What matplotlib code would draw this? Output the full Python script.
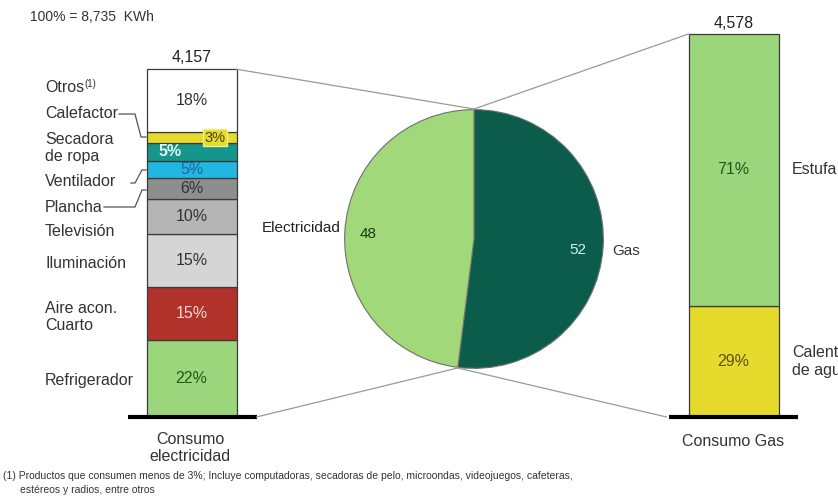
import numpy as np
import matplotlib.pyplot as plt

plt.rcParams['font.family'] = ['Liberation Sans', 'DejaVu Sans']

# consumo anual por hogar (KWh)
total_kwh = 8735
elec_total = 4157
gas_total = 4578

elec_items = ["Refrigerador", "Aire acon.\nCuarto", "Iluminación", "Televisión",
              "Plancha", "Ventilador", "Secadora\nde ropa", "Calefactor", "Otros"]
elec_shares = [22, 15, 15, 10, 6, 5, 5, 3, 18]

gas_items = ["Calentador\nde agua", "Estufa"]
gas_shares = [29, 71]

pie_labels = ["Gas", "Electricidad"]
pie_values = [52, 48]

elec_colors = ["#9cd67c", "#b0322b", "#d5d5d5", "#b5b5b5", "#8e8e8e",
               "#22b6e2", "#16958a", "#e6da2c", "#ffffff"]
elec_text = ["#1d5a1d", "#f6d6d0", "#333333", "#333333", "#333333",
             "#1c6a9c", "#e4f4f2", "#4a4400", "#333333"]
gas_colors = ["#e6da2c", "#9cd67c"]
gas_text = ["#5a5410", "#1d5a1d"]
pie_colors = ["#0b5c4a", "#a0d87a"]

W, H = 838, 500
base_px = 417
kwh_per_px = gas_total / 383.0
fs = 11.5

fig = plt.figure(figsize=(W / 100, H / 100), dpi=100)

# bars in KWh
ax = fig.add_axes([0, 0, 1, 1])
ax.set_xlim(0, W)
ax.set_ylim((base_px - H) * kwh_per_px, base_px * kwh_per_px)
ax.axis('off')

# overlay in pixel units for labels and connector lines
ov = fig.add_axes([0, 0, 1, 1], zorder=3)
ov.set_xlim(0, W)
ov.set_ylim(H, 0)
ov.axis('off')
ov.patch.set_alpha(0)


def to_px(kwh):
    return base_px - kwh / kwh_per_px


xl, xr, bw = 191.5, 733.5, 90

# electricity stack
elec_vals = np.array(elec_shares) / sum(elec_shares) * elec_total
bottom = 0
seg_mid = []
for v, c in zip(elec_vals, elec_colors):
    ax.bar(xl, v, bw, bottom=bottom, color=c, edgecolor="#3a3a3a", linewidth=0.9)
    seg_mid.append(bottom + v / 2)
    bottom += v

for i, (s, m) in enumerate(zip(elec_shares, seg_mid)):
    x = xl
    kw = dict(ha='center', va='center', fontsize=fs, color=elec_text[i])
    if elec_items[i] == "Calefactor":
        x = 215
        kw['fontsize'] = fs - 1
        kw['bbox'] = dict(boxstyle='square,pad=0.12', fc="#e6da2c", ec="#f2ec90", lw=1)
    if elec_items[i].startswith("Secadora"):
        x = 170
        kw['fontweight'] = 'bold'
    ax.text(x, m, f"{s}%", **kw)

# gas stack
gas_vals = np.array(gas_shares) / sum(gas_shares) * gas_total
bottom = 0
for v, c, s, tc in zip(gas_vals, gas_colors, gas_shares, gas_text):
    ax.bar(xr, v, bw, bottom=bottom, color=c, edgecolor="#3a3a3a", linewidth=0.9)
    ax.text(xr, bottom + v / 2, f"{s}%", ha='center', va='center',
            fontsize=fs, color=tc)
    bottom += v

# totals on top of bars
ax.text(xl, elec_total + 12 * kwh_per_px, f"{elec_total:,}", ha='center', va='center',
        fontsize=fs, color="#222222")
ax.text(xr, gas_total + 11 * kwh_per_px, f"{gas_total:,}", ha='center', va='center',
        fontsize=fs, color="#222222")

# base lines
ax.plot([xl - 64, xl + 65], [0, 0], color='black', lw=3, solid_capstyle='butt')
ax.plot([xr - 65, xr + 64], [0, 0], color='black', lw=3, solid_capstyle='butt')

# pie
cx, cy, r = 474, 239, 130
pax = fig.add_axes([(cx - r) / W, (H - cy - r) / H, 2 * r / W, 2 * r / H], zorder=1)
pax.pie(pie_values, colors=pie_colors, startangle=90, counterclock=False, radius=1,
        wedgeprops=dict(edgecolor="#707070", linewidth=0.8))
pax.set_xlim(-1.005, 1.005)
pax.set_ylim(-1.005, 1.005)
pax.set_aspect('equal')

# points where the two slices meet
ang = np.deg2rad(90 - 360 * pie_values[0] / sum(pie_values))
top_pt = (cx, cy - r)
bot_pt = (cx + r * np.cos(ang), cy - r * np.sin(ang))

lc = "#9a9a9a"
el_top = to_px(elec_total)
gs_top = to_px(gas_total)
ov.plot([xl + bw / 2, top_pt[0]], [el_top, top_pt[1]], color=lc, lw=0.9)
ov.plot([xl + 65, bot_pt[0]], [base_px, bot_pt[1]], color=lc, lw=0.9)
ov.plot([top_pt[0], xr - bw / 2], [top_pt[1], gs_top], color=lc, lw=0.9)
ov.plot([bot_pt[0], xr - 67], [bot_pt[1], base_px], color=lc, lw=0.9)

ov.text(341, 228, pie_labels[1], ha='right', va='center', fontsize=fs - 0.5, color="#222222")
ov.text(368, 234, str(pie_values[1]), ha='center', va='center', fontsize=fs - 0.5, color="#1a3a10")
ov.text(578, 250, str(pie_values[0]), ha='center', va='center', fontsize=fs - 0.5, color="#cfeff2")
ov.text(612, 251, pie_labels[0], ha='left', va='center', fontsize=fs - 0.5, color="#333333")

# category labels at the left of the electricity bar
label_y = [381, 317, 263, 231, 207, 182, 148, 113, 88]
for name, y in zip(elec_items, label_y):
    ov.text(45, y, name, ha='left', va='center', fontsize=fs, color="#333333",
            linespacing=1.2)
ov.text(84, 84, "(1)", ha='left', va='center', fontsize=7, color="#333333")

# leader lines for the thin segments
leaders = [
    [(119, 114), (135, 114), (141, 137), (146, 137)],
    [(131, 183), (135, 183), (142, 170), (146, 170)],
    [(104, 207), (135, 207), (142, 190), (146, 190)],
]
for pts in leaders:
    xs, ys = zip(*pts)
    ov.plot(xs, ys, color="#555555", lw=0.9)

# labels right of the gas bar
gas_mid = np.cumsum(gas_vals) - gas_vals / 2
for name, m in zip(gas_items, gas_mid):
    ax.text(792, m, name, ha='left', va='center', fontsize=fs, color="#333333",
            linespacing=1.2)

ov.text(30, 17, f"100% = {total_kwh:,}  KWh", ha='left', va='center', fontsize=10, color="#333333")
ov.text(190, 448, "Consumo\nelectricidad", ha='center', va='center', fontsize=fs,
        color="#333333", linespacing=1.1)
ov.text(733, 442, "Consumo Gas", ha='center', va='center', fontsize=fs, color="#333333")
ov.text(3, 476, "(1) Productos que consumen menos de 3%; Incluye computadoras, secadoras de pelo, "
        "microondas, videojuegos, cafeteras,", ha='left', va='center', fontsize=7.5, color="#333333")
ov.text(20, 490, "estéreos y radios, entre otros", ha='left', va='center', fontsize=7.5, color="#333333")

fig.savefig("out.png", dpi=100)
